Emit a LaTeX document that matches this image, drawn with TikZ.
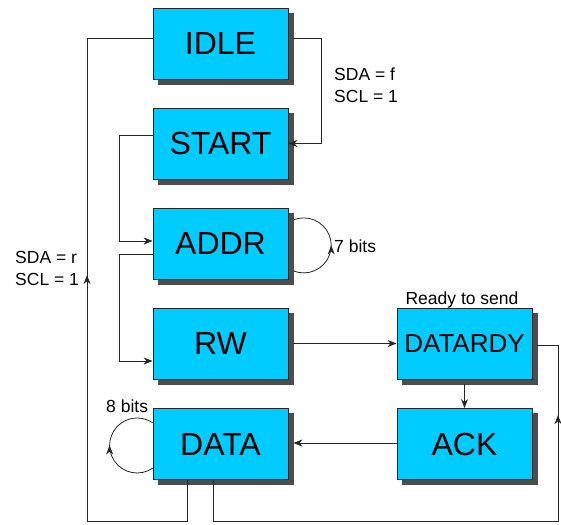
\documentclass[tikz,border=0pt]{standalone}
\usepackage{fontspec}
\setmainfont{Liberation Sans}
\usetikzlibrary{arrows.meta,shadows,decorations.markings}
\definecolor{boxfill}{HTML}{00CCFF}
\definecolor{shadowc}{HTML}{4D4D4D}
\definecolor{linec}{HTML}{262626}
\begin{document}
\begin{tikzpicture}[x=1pt,y=-1pt,
 state/.style={draw=linec, line width=0.8pt, fill=boxfill, minimum width=135pt, minimum height=71pt, inner sep=0pt, text=black,
   font=\fontsize{32}{36}\selectfont,
   drop shadow={shadow xshift=5pt, shadow yshift=-5pt, fill=shadowc, draw=shadowc, opacity=1}},
 conn/.style={color=linec, line width=0.8pt},
 tip/.style={-{Stealth[length=9pt,width=7pt]}},
 markat/.style={postaction={decorate}, decoration={markings, mark=at position #1 with {\arrow{Stealth[length=9pt,width=7pt]}}}},
 lbl/.style={font=\fontsize{17.5}{22}\selectfont, inner sep=0pt}
]
\useasboundingbox (0,0) rectangle (561,524);

\node[state] (idle) at (220.5,43.5) {IDLE};
\node[state] (start) at (220.5,143.5) {START};
\node[state] (addr) at (220.5,243.5) {ADDR};
\node[state] (rw) at (220.5,343.5) {RW};
\node[state] (data) at (220.5,444) {DATA};
\node[state, font=\fontsize{26}{30}\selectfont] (datardy) at (464.5,343.5) {DATARDY};
\node[state] (ack) at (464.5,444) {ACK};

% connectors
\draw[conn, markat=387pt] ([xshift=-33.5pt]data.south) |- (87,521) |- ([yshift=5.5pt]idle.west);
\draw[conn, tip] ([shift={(5pt,5.5pt)}]idle.east) -- ++(28,0) |- (start.east);
\draw[conn, tip] ([yshift=8.5pt]start.west) -- ++(-33,0) |- ([yshift=2.5pt]addr.west);
\draw[conn, tip] ([yshift=-10.5pt]addr.west) -- ++(-33,0) |- ([yshift=-17.5pt]rw.west);
\draw[conn, tip] ([xshift=5pt]rw.east) -- (datardy.west);
\draw[conn, tip] ([yshift=-5pt]datardy.south) -- (ack.north);
\draw[conn, markat=492pt] ([xshift=-7.5pt]data.south) |- (558,521) |- ([shift={(5pt,-1.5pt)}]datardy.east);
\draw[conn, tip] ([yshift=1pt]ack.west) -- ([shift={(5pt,1pt)}]data.east);

% self loops
\draw[conn, markat=0.5] ([shift={(5pt,-27.4pt)}]addr.east) arc[start angle=112, end angle=-112, radius=27.5];
\draw[conn, markat=0.5] ([yshift=-24.2pt]data.west) arc[start angle=55.7, end angle=304.3, radius=27.5];

% labels
\node[lbl, anchor=base west] (sdaf) at (334,80.7) {SDA = f};
\node[lbl, anchor=base west] (sclf) at (334,102.7) {SCL = 1};
\node[lbl, anchor=base west] (sdar) at (15,263) {SDA = r};
\node[lbl, anchor=base west] (sclr) at (15,285) {SCL = 1};
\node[lbl, anchor=base west] (bits7) at (334,252) {7 bits};
\node[lbl, anchor=base west] (bits8) at (106,412) {8 bits};
\node[lbl, anchor=base] (rts) at (462,304) {Ready to send};
\end{tikzpicture}
\end{document}
